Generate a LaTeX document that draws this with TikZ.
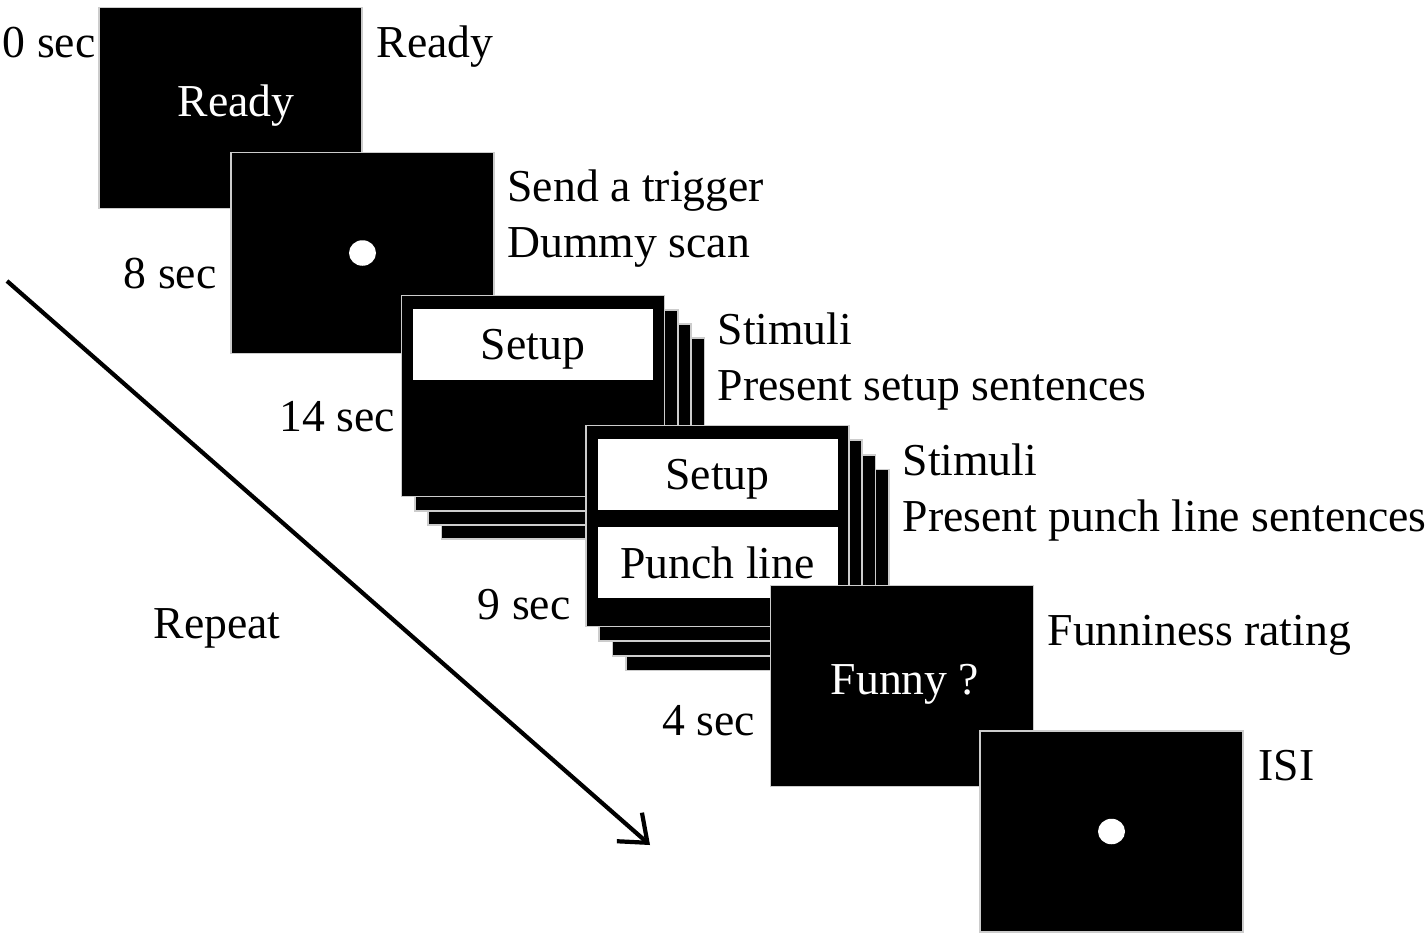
\documentclass[tikz,border=0pt]{standalone}
\usepackage{fontspec}
\setmainfont{Liberation Serif}
\usepackage{tikz}
\usetikzlibrary{arrows.meta, positioning, shapes.geometric}

\tikzset{
  screen/.style={rectangle, fill=black, draw=white!80!black, line width=0.5pt,
    minimum width=2.63cm, minimum height=2.01cm, inner sep=0pt, text=white},
  panel/.style={rectangle, fill=white, draw=none, minimum width=2.40cm,
    minimum height=0.71cm, inner sep=0pt, text depth=0pt, text=black},
  fixdot/.style={ellipse, fill=white, draw=none, minimum width=0.27cm,
    minimum height=0.255cm, inner sep=0pt},
  lbl/.style={inner sep=0pt, font=\fontsize{13}{15}\selectfont},
}

\begin{document}
\begin{tikzpicture}[font=\fontsize{13}{15}\selectfont]
\useasboundingbox (0,0) rectangle (14.27,-9.38);

% Screens
\node[screen] (ready) at (2.305,-1.08) {};
\node[lbl, text=white, anchor=base] (readytxt) at (2.36,-1.16) {Ready};
\node[screen] (blank) at (3.625,-2.53) {};
\node[fixdot] (dot1) at (blank.center) {};

% Setup (stacked)
\foreach \k in {3,2,1}
  \node[screen, xshift=\k*1.33mm, yshift=-\k*1.42mm] (setup\k) at (5.33,-3.96) {};
\node[screen] (setup) at (5.33,-3.96) {};
\node[panel, below=0.14cm of setup.north] (setupbox) {Setup};

% Punch line (stacked)
\foreach \k in {3,2,1}
  \node[screen, xshift=\k*1.33mm, yshift=-\k*1.47mm] (punch\k) at (7.175,-5.26) {};
\node[screen] (punch) at (7.175,-5.26) {};
\node[panel, below=0.14cm of punch.north] (punchsetup) {Setup};
\node[panel, below=0.15cm of punchsetup] (punchline) {Punch line};

\node[screen] (funny) at (9.02,-6.86) {};
\node[lbl, text=white, anchor=base] (funnytxt) at (9.05,-6.94) {Funny ?};
\node[screen] (isi) at (11.115,-8.315) {};
\node[fixdot] (dot2) at (isi.center) {};

% Times
\node[lbl, anchor=base east] (t0) at ([xshift=-0.02cm, yshift=-0.505cm]ready.north west) {0 sec};
\node[lbl, anchor=base east] (t8) at ([xshift=-0.13cm, yshift=-1.365cm]blank.north west) {8 sec};
\node[lbl, anchor=base east] (t14) at ([xshift=-0.05cm, yshift=-1.365cm]setup.north west) {14 sec};
\node[lbl, anchor=base east] (t9) at ([xshift=-0.14cm, yshift=-1.945cm]punch.north west) {9 sec};
\node[lbl, anchor=base east] (t4) at ([xshift=-0.14cm, yshift=-1.505cm]funny.north west) {4 sec};

% Descriptions
\node[lbl, anchor=base west] (dready) at ([xshift=0.13cm, yshift=-0.505cm]ready.north east) {Ready};
\node[lbl, anchor=base west] (dtrig) at ([xshift=0.12cm, yshift=-0.495cm]blank.north east) {Send a trigger};
\node[lbl, anchor=base west] (ddummy) at ([xshift=0.12cm, yshift=-1.055cm]blank.north east) {Dummy scan};
\node[lbl, anchor=base west] (dstim1) at ([xshift=0.515cm, yshift=-0.495cm]setup.north east) {Stimuli};
\node[lbl, anchor=base west] (dsetup) at ([xshift=0.515cm, yshift=-1.055cm]setup.north east) {Present setup sentences};
\node[lbl, anchor=base west] (dstim2) at ([xshift=0.52cm, yshift=-0.505cm]punch.north east) {Stimuli};
\node[lbl, anchor=base west] (dpunch) at ([xshift=0.52cm, yshift=-1.065cm]punch.north east) {Present punch line sentences};
\node[lbl, anchor=base west] (drate) at ([xshift=0.125cm, yshift=-0.605cm]funny.north east) {Funniness rating};
\node[lbl, anchor=base west] (disi) at ([xshift=0.14cm, yshift=-0.50cm]isi.north east) {ISI};

% Repeat arrow
\coordinate (rptstart) at (0.07,-2.81);
\coordinate (rptend) at (6.50,-8.45);
\draw[line width=1.2pt, -{Straight Barb[length=2.4mm, width=3.8mm]}] (rptstart) -- (rptend);
\node[lbl, anchor=base] (repeat) at (2.17,-6.38) {Repeat};

\end{tikzpicture}
\end{document}
